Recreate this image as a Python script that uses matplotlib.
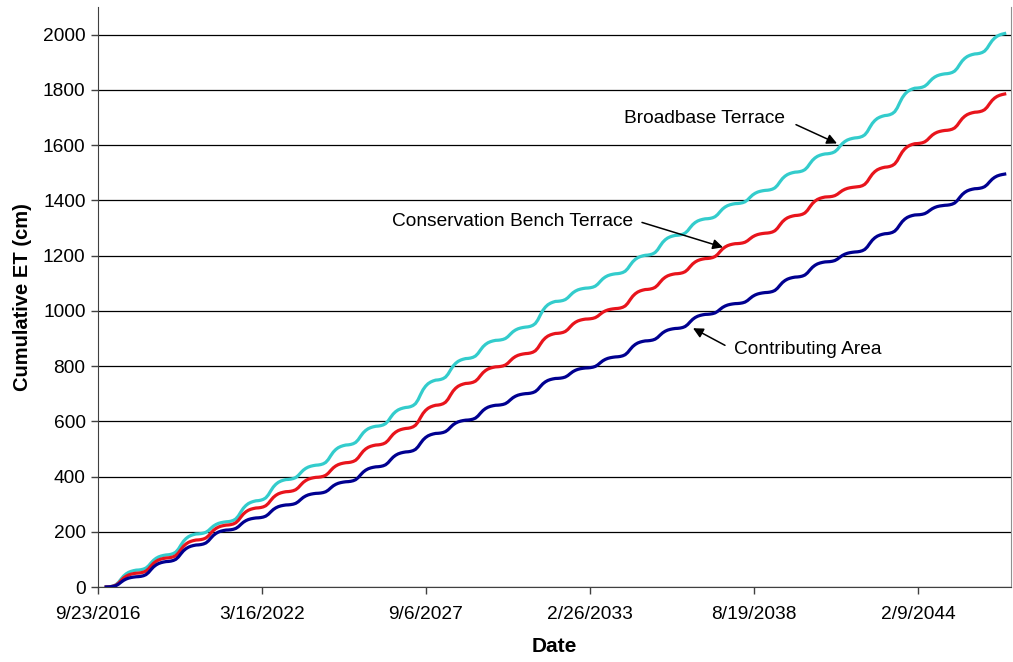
import matplotlib
matplotlib.use("Agg")
import matplotlib.pyplot as plt
import matplotlib.dates as mdates
from matplotlib.ticker import FixedLocator, FuncFormatter
import pandas as pd
import numpy as np

plt.rcParams['font.family'] = ['Liberation Sans', 'DejaVu Sans']

# cumulative ET (cm) at the end of each simulated year, 2016-12-31 .. 2046-12-31
broadbase = [0, 61, 116, 192, 236, 312, 389, 441, 514, 582, 650, 749, 827, 893, 941,
             1034, 1082, 1134, 1201, 1273, 1333, 1388, 1436, 1502, 1568, 1626, 1707,
             1806, 1858, 1930, 2004]
conservation = [0, 50, 105, 170, 224, 286, 345, 397, 450, 514, 574, 658, 737, 797, 845,
                918, 970, 1008, 1077, 1134, 1189, 1243, 1281, 1345, 1412, 1448, 1520,
                1605, 1653, 1719, 1785]
contributing = [0, 37, 92, 152, 206, 250, 297, 339, 381, 435, 489, 556, 604, 658, 700,
                755, 793, 833, 891, 936, 987, 1026, 1066, 1122, 1177, 1213, 1279,
                1347, 1382, 1442, 1495]

# share of the yearly ET used in each month (Jan..Dec)
monthly_share = [0.01, 0.02, 0.04, 0.07, 0.14, 0.19, 0.18, 0.13, 0.09, 0.06, 0.04, 0.03]

first_year = 2017
axis_start = pd.Timestamp('2016-09-23')
tick_step_days = 2000
n_ticks = 6


def monthly_curve(year_totals):
    """Spread each year's ET over the months and return dates, cumulative values."""
    share_cum = np.cumsum(monthly_share)
    dates = [pd.Timestamp(first_year, 1, 1)]
    vals = [year_totals[0]]
    for k in range(len(year_totals) - 1):
        inc = year_totals[k + 1] - year_totals[k]
        for m in range(12):
            y, mo = first_year + k, m + 2
            if mo == 13:
                y, mo = y + 1, 1
            dates.append(pd.Timestamp(y, mo, 1))
            vals.append(year_totals[k] + inc * share_cum[m])
    return dates, vals


fig = plt.figure(figsize=(10.13, 6.62), dpi=100)
ax = fig.add_axes([98 / 1013, 1 - 587 / 662, (1011 - 98) / 1013, (587 - 7) / 662])

series = [
    (broadbase, '#33cccc'),
    (conservation, '#e8141c'),
    (contributing, '#000090'),
]
for vals, col in series:
    d, v = monthly_curve(vals)
    ax.plot(d, v, color=col, lw=2.3, solid_joinstyle='round', zorder=3)

# axes
x0 = mdates.date2num(axis_start)
ax.set_xlim(x0, x0 + 11134)
ax.set_ylim(0, 2100)
ax.set_yticks(range(0, 2001, 200))
ax.xaxis.set_major_locator(FixedLocator([x0 + tick_step_days * i for i in range(n_ticks)]))


def fmt_date(x, pos):
    d = mdates.num2date(x)
    return f"{d.month}/{d.day}/{d.year}"


ax.xaxis.set_major_formatter(FuncFormatter(fmt_date))
ax.grid(axis='y', color='black', lw=0.9)
ax.set_axisbelow(True)
ax.spines['top'].set_visible(False)
ax.spines['right'].set_color('#909090')
ax.spines['left'].set_color('#404040')
ax.spines['bottom'].set_color('#404040')
ax.tick_params(direction='out', length=5, width=1, labelsize=13.8, color='#404040')
ax.tick_params(axis='x', pad=9)
ax.tick_params(axis='y', pad=4)

ax.set_xlabel('Date', fontsize=15, fontweight='bold', labelpad=10)
ax.set_ylabel('Cumulative ET (cm)', fontsize=14.5, fontweight='bold', labelpad=8)


# annotations: positions in days from axis start and cm
def at(days, cm):
    return (x0 + days, cm)


labels = [
    ('Broadbase Terrace', at(7402, 1696), at(8512, 1674), at(9012, 1606)),
    ('Conservation Bench Terrace', at(5061, 1324), at(6634, 1320), at(7622, 1230)),
    ('Contributing Area', at(8659, 861), at(7646, 875), at(7256, 937)),
]
for txt, pos, tail, head in labels:
    ax.text(*pos, txt, fontsize=13.8, ha='center', va='center')
    ax.annotate('', xy=head, xytext=tail,
                arrowprops=dict(arrowstyle='-|>', color='black', lw=1.1,
                                mutation_scale=15, shrinkA=0, shrinkB=0))

fig.savefig('out.png', dpi=100)
